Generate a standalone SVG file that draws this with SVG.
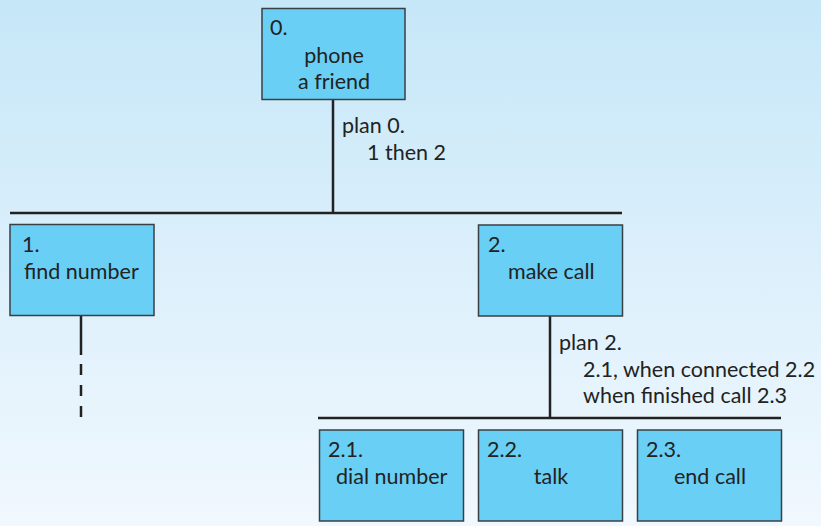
<svg xmlns="http://www.w3.org/2000/svg" width="821" height="526" viewBox="0 0 821 526">
<defs>
<linearGradient id="bg" x1="0" y1="0" x2="0" y2="1">
<stop offset="0" stop-color="#c6e7f8"/>
<stop offset="1" stop-color="#f1f8fe"/>
</linearGradient>
</defs>
<style>
.box{fill:#6acff5;stroke:#3a3f44;stroke-width:1.5}
.ln{stroke:#222;stroke-width:2.5;fill:none}
text{font-family:Lato,"Open Sans","Liberation Sans",sans-serif;font-size:21.5px;fill:#222}
.m{text-anchor:middle}
</style>
<rect x="0" y="0" width="821" height="526" fill="url(#bg)"/>
<g id="connectors">
<line class="ln" x1="333" y1="99" x2="333" y2="213"/>
<line class="ln" x1="10" y1="213" x2="622" y2="213"/>
<line class="ln" x1="81" y1="316" x2="81" y2="355"/>
<line class="ln" x1="81" y1="364" x2="81" y2="418" stroke-dasharray="11 10" stroke-width="3"/>
<line class="ln" x1="550" y1="316" x2="550" y2="418"/>
<line class="ln" x1="318" y1="418" x2="781" y2="418"/>
<text x="342" y="133">plan 0.</text>
<text x="367" y="160">1 then 2</text>
<text x="559" y="350">plan 2.</text>
<text x="583" y="377">2.1, when connected 2.2</text>
<text x="583" y="403">when finished call 2.3</text>
</g>
<g id="n0">
<rect class="box" x="262" y="8.5" width="143" height="91"/>
<text x="270" y="35">0.</text>
<text class="m" x="334" y="63">phone</text>
<text class="m" x="334" y="89">a friend</text>
</g>
<g id="n1">
<rect class="box" x="10" y="224.5" width="144" height="91"/>
<text x="22" y="252">1.</text>
<text x="24" y="279">find number</text>
</g>
<g id="n2">
<rect class="box" x="478.5" y="225" width="144" height="91"/>
<text x="488" y="252">2.</text>
<text x="508" y="279">make call</text>
</g>
<g id="n21">
<rect class="box" x="319.5" y="430" width="144" height="91"/>
<text x="328" y="457">2.1.</text>
<text x="336" y="484">dial number</text>
</g>
<g id="n22">
<rect class="box" x="478.5" y="430" width="144" height="91"/>
<text x="487" y="457">2.2.</text>
<text class="m" x="551" y="484">talk</text>
</g>
<g id="n23">
<rect class="box" x="637.5" y="430" width="144" height="91"/>
<text x="646" y="457">2.3.</text>
<text class="m" x="710" y="484">end call</text>
</g>
</svg>
